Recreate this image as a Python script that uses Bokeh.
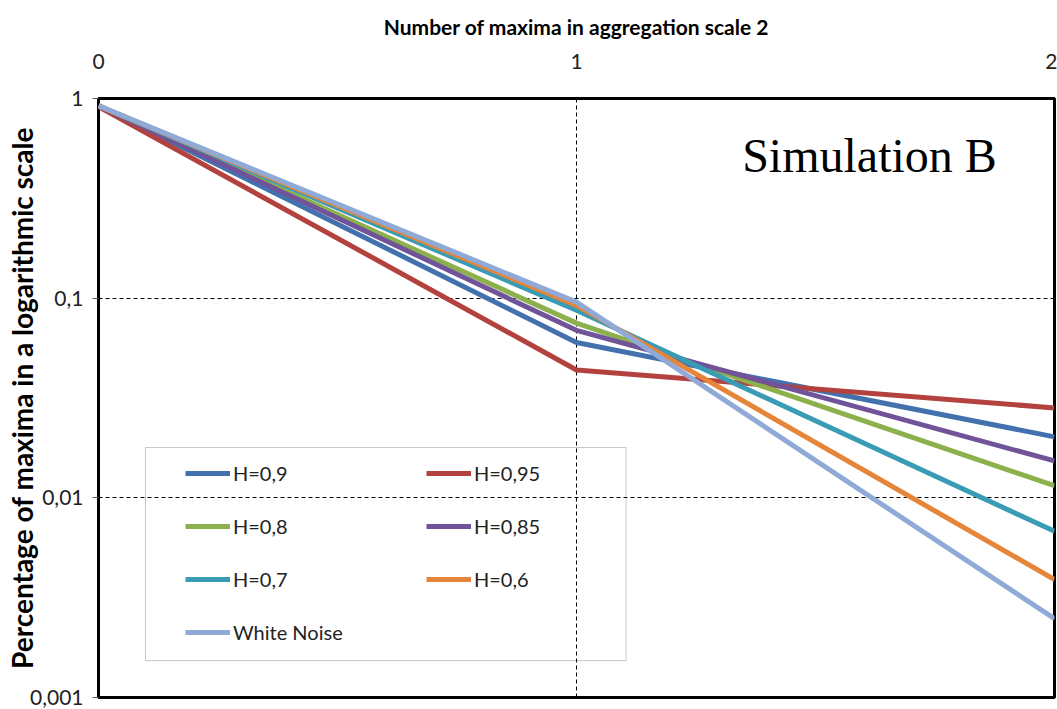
from bokeh.plotting import figure
from bokeh.models import (Range1d, FixedTicker, CustomJSTickFormatter, Legend, LegendItem,
                          BoxAnnotation, Label)
from bokeh.embed import file_html
from bokeh.resources import INLINE

# ---- data ----
x_vals = [0, 1, 2]
x_ticks = [0, 1, 2]
y_ticks = [0.001, 0.01, 0.1, 1]
series_names = ["H=0,9", "H=0,95", "H=0,8", "H=0,85", "H=0,7", "H=0,6", "White Noise"]
h090 = [0.92, 0.060, 0.0202]
h095 = [0.91, 0.0437, 0.0282]
h080 = [0.92, 0.075, 0.0115]
h085 = [0.92, 0.069, 0.0153]
h070 = [0.92, 0.087, 0.0068]
h060 = [0.92, 0.092, 0.0039]
white_noise = [0.92, 0.0955, 0.00248]
series_values = [h090, h095, h080, h085, h070, h060, white_noise]
colors = ["#4271AE", "#B3423F", "#8CB04B", "#71539A", "#3A9BB5", "#E5853A", "#8FAAD6"]

FONT = "Lato"

p = figure(width=1057, height=709, output_backend="svg", toolbar_location=None,
           x_axis_location="above", y_axis_type="log",
           x_range=Range1d(0, 2), y_range=Range1d(0.001, 1),
           min_border_left=98, min_border_top=98, min_border_right=3, min_border_bottom=12)
p.background_fill_color = "white"
p.border_fill_color = "white"
p.outline_line_color = "black"
p.outline_line_width = 3

# grids
p.xgrid.ticker = FixedTicker(ticks=[1])
p.ygrid.ticker = FixedTicker(ticks=[0.01, 0.1])
for g in (p.xgrid[0], p.ygrid[0]):
    g.grid_line_color = "black"
    g.grid_line_dash = "4 3"
    g.grid_line_width = 1

# x axis (top)
xa = p.xaxis[0]
xa.ticker = FixedTicker(ticks=x_ticks)
xa.axis_label = "Number of maxima in aggregation scale 2"
xa.axis_label_text_font = FONT
xa.axis_label_text_font_style = "bold"
xa.axis_label_text_font_size = "21px"
xa.axis_label_text_color = "black"
xa.axis_label_standoff = 12
xa.major_label_text_font = FONT
xa.major_label_text_font_size = "21px"
xa.major_label_text_color = "#222222"
xa.major_label_standoff = 30
xa.major_tick_out = 0
xa.major_tick_in = 0
xa.minor_tick_out = 0
xa.minor_tick_in = 0
xa.axis_line_color = None

# y axis (left)
ya = p.yaxis[0]
ya.ticker = FixedTicker(ticks=y_ticks)
ya.formatter = CustomJSTickFormatter(code="return tick.toString().replace('.', ',');")
ya.axis_label = "Percentage of maxima in a logarithmic scale"
ya.axis_label_text_font = FONT
ya.axis_label_text_font_style = "bold"
ya.axis_label_text_font_size = "28px"
ya.axis_label_text_color = "black"
ya.axis_label_standoff = -12
ya.major_label_text_font = FONT
ya.major_label_text_font_size = "21px"
ya.major_label_text_color = "#222222"
ya.major_label_standoff = 9
ya.major_tick_out = 6
ya.major_tick_in = 0
ya.major_tick_line_color = "#555555"
ya.minor_tick_out = 0
ya.minor_tick_in = 0
ya.axis_line_color = None

# lines
items = []
for name, vals, col in zip(series_names, series_values, colors):
    r = p.line(x_vals, vals, line_color=col, line_width=5)
    items.append(LegendItem(label=name, renderers=[r]))

# legend frame
p.add_layout(BoxAnnotation(left=0.0984, right=1.1037, bottom=0.00153, top=0.01786,
                           fill_alpha=0, line_color="#444444", line_width=1, level="overlay"))

legend = Legend(items=items, location=(87, 53), orientation="horizontal", ncols=2,
                glyph_width=45, glyph_height=24, label_height=24, label_width=164,
                spacing=29, padding=0, margin=0, label_standoff=3,
                label_text_font=FONT, label_text_font_size="20px", label_text_color="#222222",
                border_line_alpha=0, background_fill_alpha=0)
p.add_layout(legend)

p.add_layout(Label(x=1.613, y=0.52, text="Simulation B", text_align="center",
                   text_baseline="alphabetic", text_font="Liberation Serif",
                   text_font_size="48px", text_color="black"))

open("out.html", "w").write(file_html(p, INLINE))
